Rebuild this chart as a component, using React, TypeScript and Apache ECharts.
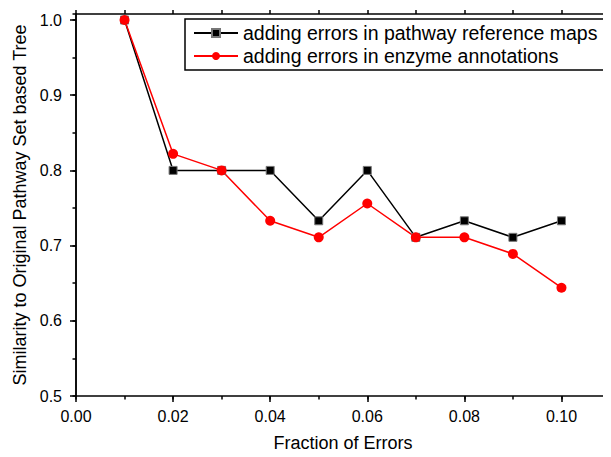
import React, { useEffect, useRef } from "react";
import * as echarts from "echarts";

const fractions = [0.01, 0.02, 0.03, 0.04, 0.05, 0.06, 0.07, 0.08, 0.09, 0.1];
const pathwayErrors = [1.0, 0.8, 0.8, 0.8, 0.733, 0.8, 0.711, 0.733, 0.711, 0.733];
const enzymeErrors = [1.0, 0.822, 0.8, 0.733, 0.711, 0.756, 0.711, 0.711, 0.689, 0.644];
const seriesNames = [
  "adding errors in pathway reference maps",
  "adding errors in enzyme annotations",
];

const FONT = "Liberation Sans, Arial, sans-serif";

export default function App() {
  const ref = useRef<HTMLDivElement>(null);
  useEffect(() => {
    if (!ref.current) return;
    const chart = echarts.init(ref.current, null, { renderer: "svg" });
    const lineStyle = { color: "#000", width: 1.5 };
    chart.setOption({
      animation: false,
      backgroundColor: "#fff",
      grid: { left: 76, right: 1, top: 14, bottom: 56, containLabel: false },
      legend: {
        left: 185,
        top: 19,
        orient: "vertical",
        padding: [4, 14, 4, 8],
        itemGap: 3,
        itemWidth: 44,
        itemHeight: 10,
        borderColor: "#000",
        borderWidth: 1.5,
        borderRadius: 0,
        backgroundColor: "#fff",
        textStyle: { fontFamily: FONT, fontSize: 19.5, color: "#000" },
        data: seriesNames,
      },
      xAxis: [
        {
          type: "value",
          position: "bottom",
          min: 0,
          max: 0.11,
          interval: 0.02,
          name: "Fraction of Errors",
          nameLocation: "middle",
          nameGap: 38,
          nameTextStyle: { fontFamily: FONT, fontSize: 18, color: "#000" },
          axisLine: { show: true, lineStyle },
          axisTick: { show: true, inside: false, length: 6, lineStyle },
          axisLabel: {
            fontFamily: FONT,
            fontSize: 16,
            color: "#000",
            margin: 12,
            showMaxLabel: false,
            formatter: (v: number) => v.toFixed(2),
          },
          splitLine: { show: false },
        },
        {
          type: "value",
          position: "bottom",
          min: 0,
          max: 0.11,
          interval: 0.01,
          axisLine: { show: false },
          axisTick: { show: true, inside: false, length: 3.5, lineStyle },
          axisLabel: { show: false },
          splitLine: { show: false },
        },
        {
          type: "value",
          position: "top",
          min: 0,
          max: 0.11,
          interval: 0.01,
          axisLine: { show: true, lineStyle },
          axisTick: { show: true, inside: false, length: 4, lineStyle },
          axisLabel: { show: false },
          splitLine: { show: false },
        },
      ],
      yAxis: [
        {
          type: "value",
          position: "left",
          min: 0.5,
          max: 1.008,
          interval: 0.1,
          name: "Similarity to Original Pathway Set based Tree",
          nameLocation: "middle",
          nameGap: 47,
          nameTextStyle: { fontFamily: FONT, fontSize: 18, color: "#000" },
          axisLine: { show: true, lineStyle },
          axisTick: { show: true, inside: false, length: 6, lineStyle },
          axisLabel: {
            fontFamily: FONT,
            fontSize: 16,
            color: "#000",
            margin: 14,
            showMaxLabel: false,
            formatter: (v: number) => v.toFixed(1),
          },
          splitLine: { show: false },
        },
        {
          type: "value",
          position: "left",
          min: 0.5,
          max: 1.008,
          interval: 0.05,
          axisLine: { show: false },
          axisTick: { show: true, inside: false, length: 3.5, lineStyle },
          axisLabel: { show: false },
          splitLine: { show: false },
        },
        {
          type: "value",
          position: "right",
          min: 0.5,
          max: 1.008,
          interval: 0.1,
          axisLine: { show: true, lineStyle },
          axisTick: { show: false },
          axisLabel: { show: false },
          splitLine: { show: false },
        },
      ],
      series: [
        {
          name: seriesNames[0],
          type: "line",
          xAxisIndex: 0,
          yAxisIndex: 0,
          data: fractions.map((x, i) => [x, pathwayErrors[i]]),
          symbol: "rect",
          symbolSize: 8,
          itemStyle: { color: "#000", borderColor: "#777", borderWidth: 1 },
          lineStyle: { color: "#000", width: 1.5 },
        },
        {
          name: seriesNames[1],
          type: "line",
          xAxisIndex: 0,
          yAxisIndex: 0,
          data: fractions.map((x, i) => [x, enzymeErrors[i]]),
          symbol: "circle",
          symbolSize: 10,
          itemStyle: { color: "#ff0000" },
          lineStyle: { color: "#ff0000", width: 1.5 },
        },
      ],
    });
    return () => chart.dispose();
  }, []);
  return <div ref={ref} style={{ width: 611, height: 457, margin: -8 }} />;
}
